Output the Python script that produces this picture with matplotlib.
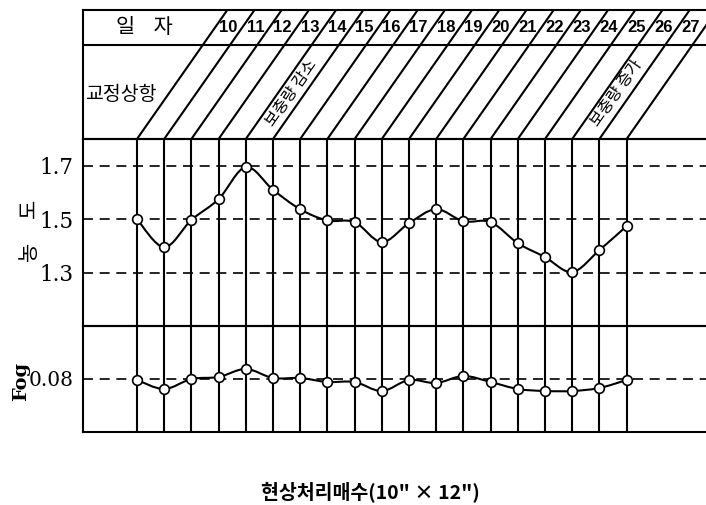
import matplotlib
matplotlib.use("Agg")
import matplotlib.pyplot as plt
import numpy as np
from matplotlib.path import Path
from matplotlib.patches import PathPatch

# ---------------- data ----------------
dates = ["10", "11", "12", "13", "14", "15", "16", "17", "18", "19",
         "20", "21", "22", "23", "24", "25", "26", "27"]
density = [1.500, 1.395, 1.497, 1.575, 1.695, 1.610, 1.537, 1.495, 1.489, 1.414,
           1.485, 1.537, 1.492, 1.489, 1.410, 1.358, 1.302, 1.384, 1.474]
fog = [0.0795, 0.0750, 0.0800, 0.0810, 0.0850, 0.0805, 0.0805, 0.0785, 0.0785, 0.0740,
       0.0795, 0.0780, 0.0815, 0.0785, 0.0750, 0.0740, 0.0740, 0.0755, 0.0795]
density_ticks = [1.3, 1.5, 1.7]
fog_ticks = [0.08]
notes = [("보충량 감소", 4.5), ("보충량 증가", 16.45)]

KR = ["Noto Sans CJK KR", "DejaVu Sans"]
SERIF = ["DejaVu Serif"]

W, H = 706, 505
fig = plt.figure(figsize=(W / 100, H / 100), dpi=100)


def fy(px):
    return 1 - px / H


L, R = 83, 706
x_step = 27.2
x0 = 137
xlim = ((L - x0) / x_step, (R - x0) / x_step)

ax_h = fig.add_axes([L / W, fy(139), (R - L) / W, (139 - 10) / H])
ax_c = fig.add_axes([L / W, fy(326), (R - L) / W, (326 - 139) / H])
ax_f = fig.add_axes([L / W, fy(432), (R - L) / W, (432 - 326) / H])

LW = 1.5
for ax in (ax_h, ax_c, ax_f):
    ax.set_xlim(*xlim)
    ax.set_xticks([])
    for s in ("left", "top", "bottom"):
        ax.spines[s].set_linewidth(LW)
    ax.spines["right"].set_visible(False)
    ax.patch.set_alpha(0)

n = len(density)
xs = np.arange(n)


def smooth_path(x, y):
    pts = np.column_stack([x, y]).astype(float)
    verts = [pts[0]]
    codes = [Path.MOVETO]
    for i in range(len(pts) - 1):
        p0 = pts[i - 1] if i > 0 else pts[i]
        p1 = pts[i]
        p2 = pts[i + 1]
        p3 = pts[i + 2] if i + 2 < len(pts) else pts[i + 1]
        c1 = p1 + (p2 - p0) / 6.0
        c2 = p2 - (p3 - p1) / 6.0
        verts += [c1, c2, p2]
        codes += [Path.CURVE4] * 3
    return Path(verts, codes)


# ---- concentration panel ----
ax_c.set_ylim(1.1, 1.8)
for t in density_ticks:
    ax_c.axhline(t, color="black", lw=1.2, ls=(0, (6, 4)))
for i in xs:
    ax_c.axvline(i, color="black", lw=LW)
ax_c.add_patch(PathPatch(smooth_path(xs, density), fill=False, lw=1.5, color="black", zorder=3))
ax_c.plot(xs, density, ls="none", marker="o", ms=7, mfc="white", mec="black", mew=1.2, zorder=4)
ax_c.set_yticks(density_ticks)
ax_c.set_yticklabels([f"{t:.1f}" for t in density_ticks], family=SERIF, fontsize=15.5)
ax_c.tick_params(axis="y", length=0, pad=7)
fig.text(29 / W, fy(251), "농", rotation=90, ha="center", va="center",
         family=KR, fontsize=15)
fig.text(29 / W, fy(208), "도", rotation=90, ha="center", va="center",
         family=KR, fontsize=15)

# ---- fog panel ----
ax_f.set_ylim(0.0535, 0.1065)
for t in fog_ticks:
    ax_f.axhline(t, color="black", lw=1.2, ls=(0, (6, 4)))
for i in xs:
    ax_f.axvline(i, color="black", lw=LW)
ax_f.add_patch(PathPatch(smooth_path(xs, fog), fill=False, lw=1.5, color="black", zorder=3))
ax_f.plot(xs, fog, ls="none", marker="o", ms=7, mfc="white", mec="black", mew=1.2, zorder=4)
ax_f.set_yticks(fog_ticks)
ax_f.set_yticklabels([f"{t:.2f}" for t in fog_ticks], family=SERIF, fontsize=14.5)
ax_f.tick_params(axis="y", length=0, pad=7)
fig.text(21 / W, fy(381), "Fog", rotation=90, ha="center", va="center",
         family=SERIF, fontsize=14, fontweight="bold")

# ---- header ----
ax_h.set_ylim(0, 129)
ax_h.set_yticks([])
ax_h.axhline(139 - 45, color="black", lw=LW)
slope = 0.7 / x_step  # x-units per px of height
for i in xs:
    ax_h.plot([i, i + slope * 129], [0, 129], color="black", lw=LW)
for k, d in enumerate(dates):
    ax_h.text(k + slope * 111 + 0.5, 111, d, ha="center", va="center",
              fontsize=12, fontweight="bold",
              family=["Liberation Sans Narrow", "Liberation Sans"])
ax_h.text((144 - x0) / x_step, 112, "일    자", ha="center", va="center",
          family=KR, fontsize=15)
ax_h.text((121 - x0) / x_step, 139 - 95, "교정상항", ha="center", va="center",
          family=KR, fontsize=14)
for txt, xc in notes:
    ax_h.text(xc + slope * 46, 46, txt, ha="center", va="center", rotation=55,
              rotation_mode="anchor", family=KR, fontsize=11.5)

fig.text(370 / W, fy(492), '현상처리매수(10" × 12")', ha="center", va="center",
         family=KR, fontsize=14, fontweight="bold")

fig.savefig("out.png", dpi=100)
